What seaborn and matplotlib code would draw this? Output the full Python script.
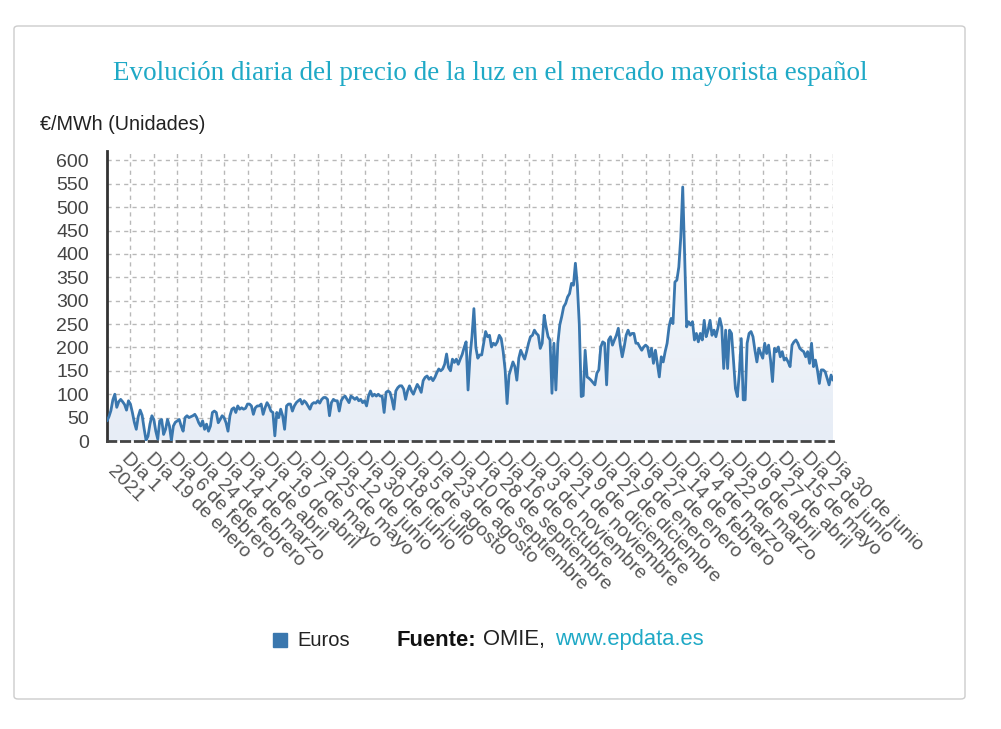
import matplotlib
matplotlib.use("Agg")
import matplotlib.pyplot as plt
from matplotlib.colors import LinearSegmentedColormap
from matplotlib.patches import FancyBboxPatch, Rectangle
import numpy as np
import pandas as pd
import seaborn as sns

# -- data --------------------------------------------------------------------

TITLE = "Evolución diaria del precio de la luz en el mercado mayorista español"
UNIT_LABEL = "€/MWh (Unidades)"
SERIES_NAME = "Euros"

# the source marks every 18th day; values below are read every 1.5 days,
# so one labelled tick falls on every 12th sample
SAMPLES_PER_TICK = 12

TICK_LABELS = [
    "", "Día 1\n2021", "Día 19 de enero", "Día 6 de febrero",
    "Día 24 de febrero", "Día 14 de marzo", "Día 1 de abril",
    "Día 19 de abril", "Día 7 de mayo", "Día 25 de mayo", "Día 12 de junio",
    "Día 30 de junio", "Día 18 de julio", "Día 5 de agosto",
    "Día 23 de agosto", "Día 10 de septiembre", "Día 28 de septiembre",
    "Día 16 de octubre", "Día 3 de noviembre", "Día 21 de noviembre",
    "Día 9 de diciembre", "Día 27 de diciembre", "Día 9 de enero",
    "Día 27 de enero", "Día 14 de febrero", "Día 4 de marzo",
    "Día 22 de marzo", "Día 9 de abril", "Día 27 de abril",
    "Día 15 de mayo", "Día 2 de junio", "Día 30 de junio",
]

# €/MWh, first half of the axis (ticks 0-15)
PRICES_A = [
    43, 52, 65, 88, 100, 72, 84, 89, 84, 78, 66, 86,
    79, 61, 40, 25, 52, 66, 55, 27, 2, 10, 36, 54,
    46, 21, 4, 43, 46, 14, 25, 46, 32, 1, 32, 40,
    43, 46, 32, 21, 50, 54, 50, 52, 54, 57, 50, 39,
    32, 43, 25, 36, 21, 32, 61, 64, 61, 39, 46, 54,
    50, 39, 21, 54, 68, 71, 61, 75, 68, 71, 68, 70,
    79, 79, 75, 57, 71, 75, 75, 79, 57, 71, 82, 75,
    64, 61, 11, 61, 50, 68, 54, 25, 75, 79, 79, 64,
    75, 82, 86, 89, 79, 86, 82, 75, 68, 79, 82, 81,
    86, 81, 89, 93, 93, 89, 54, 82, 89, 86, 86, 64,
    86, 93, 96, 89, 82, 96, 93, 89, 93, 86, 89, 82,
    86, 75, 96, 107, 96, 100, 96, 100, 96, 96, 61, 104,
    107, 104, 89, 68, 107, 114, 118, 118, 111, 89, 107, 118,
    107, 100, 111, 121, 114, 104, 129, 136, 139, 132, 136, 129,
    136, 146, 154, 150, 154, 164, 186, 157, 150, 175, 168, 175,
    164, 175, 185, 200, 212, 109, 180, 223, 283, 200, 177, 184,
]

# €/MWh, second half of the axis (ticks 16-31)
PRICES_B = [
    184, 209, 234, 223, 226, 201, 209, 205, 212, 226, 219, 191,
    152, 80, 141, 155, 169, 159, 130, 177, 194, 184, 175, 191,
    209, 223, 226, 237, 230, 226, 198, 209, 269, 244, 223, 216,
    102, 209, 109, 209, 248, 266, 287, 294, 308, 315, 337, 333,
    380, 333, 250, 95, 97, 194, 137, 134, 130, 125, 120, 145,
    152, 201, 212, 209, 120, 216, 223, 205, 216, 226, 241, 205,
    180, 201, 226, 237, 226, 230, 230, 209, 209, 201, 194, 201,
    205, 201, 180, 198, 166, 194, 166, 137, 180, 169, 191, 209,
    244, 262, 251, 340, 344, 372, 436, 543, 394, 244, 255, 248,
    255, 216, 230, 212, 230, 216, 258, 223, 237, 258, 226, 237,
    223, 241, 262, 244, 155, 237, 155, 237, 230, 173, 112, 95,
    145, 219, 88, 88, 209, 230, 234, 223, 194, 169, 198, 187,
    177, 209, 187, 205, 173, 127, 198, 191, 201, 180, 191, 173,
    177, 169, 159, 205, 212, 216, 209, 198, 194, 191, 180, 191,
    166, 209, 159, 173, 152, 123, 152, 152, 148, 134, 120, 141,
    130,
]

Y_TICKS = list(range(0, 601, 50))

# -- style -------------------------------------------------------------------

LINE_BLUE = "#3a77ae"
TEAL = "#1fa9c6"

sns.set_style("white")
plt.rcParams["font.family"] = ["Liberation Sans", "DejaVu Sans"]

W, H = 1001, 729


def fx(px):
    return px / W


def fy(py):
    return 1 - py / H


# -- plot --------------------------------------------------------------------

prices = PRICES_A + PRICES_B
df = pd.DataFrame({"sample": np.arange(len(prices)), "euros": prices})
x_end = (len(TICK_LABELS) - 1) * SAMPLES_PER_TICK

fig = plt.figure(figsize=(W / 100, H / 100), dpi=100)
ax = fig.add_axes([fx(107), fy(441), fx(833) - fx(107), fy(151) - fy(441)])

# gradient area under the line
area = ax.fill_between(df["sample"], df["euros"], 0, color="none", lw=0)
cmap = LinearSegmentedColormap.from_list("area", ["#e7edf6", "#f9fbfd"])
grad = np.linspace(0, 1, 256).reshape(-1, 1)
im = ax.imshow(grad, extent=[0, x_end, 0, 620], origin="lower",
               aspect="auto", cmap=cmap, zorder=1)
im.set_clip_path(area.get_paths()[0], transform=ax.transData)

sns.lineplot(data=df, x="sample", y="euros", color=LINE_BLUE,
             linewidth=2.0, ax=ax, legend=False, zorder=3)

ax.set_xlim(0, x_end)
ax.set_ylim(0, 620)
ax.set_xlabel("")
ax.set_ylabel("")

ax.grid(True, color="#b8b8b8", linestyle=(0, (3, 3)), linewidth=1.0)

ax.set_yticks(Y_TICKS)
ax.tick_params(axis="y", length=5, width=1.5, color="#333333", pad=8,
               labelsize=14, labelcolor="#444444")

ax.set_xticks(np.arange(len(TICK_LABELS)) * SAMPLES_PER_TICK)
ax.set_xticklabels(TICK_LABELS)
ax.tick_params(axis="x", length=4, width=2, color="#333333", pad=2,
               labelsize=14, labelcolor="#555555")
for lbl in ax.get_xticklabels():
    lbl.set_rotation(-45)
    lbl.set_ha("left")
    lbl.set_va("top")
    lbl.set_rotation_mode("anchor")

for side in ("top", "right"):
    ax.spines[side].set_visible(False)
ax.spines["left"].set_color("#333333")
ax.spines["left"].set_linewidth(2)
ax.spines["bottom"].set_color("#444444")
ax.spines["bottom"].set_linewidth(2)
ax.spines["bottom"].set_linestyle((0, (3, 2)))

# -- texts and frame ---------------------------------------------------------

fig.text(fx(490), fy(73), TITLE, ha="center", va="center", fontsize=19.5,
         color=TEAL, family=["Liberation Serif", "DejaVu Serif"])
fig.text(fx(40), fy(125), UNIT_LABEL, ha="left", va="center",
         fontsize=14.2, color="#222222")

fig.add_artist(Rectangle((fx(273), fy(647)), fx(14), 14 / H,
                         transform=fig.transFigure, color=LINE_BLUE))
fig.text(fx(297), fy(640), SERIES_NAME, ha="left", va="center",
         fontsize=14.5, color="#222222")
fig.text(fx(397), fy(640), "Fuente:", ha="left", va="center",
         fontsize=15.8, fontweight="bold", color="#111111")
fig.text(fx(483), fy(640), "OMIE,", ha="left", va="center",
         fontsize=15.8, color="#222222")
fig.text(fx(555), fy(640), "www.epdata.es", ha="left", va="center",
         fontsize=15.8, color=TEAL)

fig.add_artist(FancyBboxPatch((fx(14), fy(699)), fx(951), 673 / H,
                              boxstyle="round,pad=0,rounding_size=0.004",
                              transform=fig.transFigure, fill=False,
                              edgecolor="#cccccc", linewidth=1))

fig.savefig("out.png", dpi=100)
